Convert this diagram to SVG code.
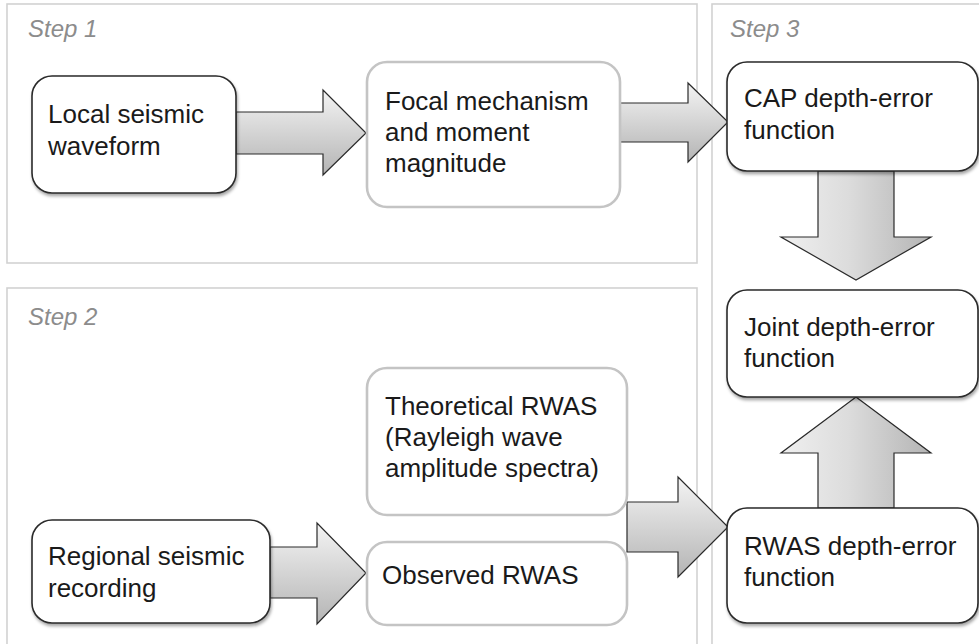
<svg xmlns="http://www.w3.org/2000/svg" width="979" height="644" viewBox="0 0 979 644">
<style>
.panel{fill:none;stroke:#d2d2d2;stroke-width:1.6}
.step{font-family:"Liberation Sans",Arial,sans-serif;font-style:italic;font-size:24px;fill:#8c8c8c}
.dark{fill:#fff;stroke:#2a2a2a;stroke-width:1.6;filter:url(#sh)}
.light{fill:#fff;stroke:#c4c4c4;stroke-width:2.6}
.t{font-family:"Liberation Sans",Arial,sans-serif;font-size:26px;fill:#1a1a1a}
.arr{stroke:#2a2a2a;stroke-width:1.2;stroke-linejoin:miter}
</style>
<defs>
<filter id="sh" x="-10%" y="-10%" width="130%" height="140%">
<feDropShadow dx="1" dy="2.5" stdDeviation="1.5" flood-color="#000" flood-opacity="0.35"/>
</filter>
<linearGradient id="gv" x1="0" y1="0" x2="0" y2="1">
<stop offset="0" stop-color="#f4f4f4"/>
<stop offset="1" stop-color="#b4b4b4"/>
</linearGradient>
<linearGradient id="gh" x1="0" y1="0" x2="1" y2="0">
<stop offset="0" stop-color="#f0f0f0"/>
<stop offset="0.45" stop-color="#dcdcdc"/>
<stop offset="1" stop-color="#b4b4b4"/>
</linearGradient>
</defs>

<g id="panels">
<rect class="panel" x="7" y="4" width="690" height="259"/>
<rect class="panel" x="7" y="288" width="690" height="380"/>
<rect class="panel" x="712" y="4" width="290" height="680"/>
<text class="step" x="28" y="37">Step 1</text>
<text class="step" x="28" y="325">Step 2</text>
<text class="step" x="730" y="37">Step 3</text>
</g>

<g id="connectors">
<polygon class="arr" fill="url(#gv)" points="236,112 323,112 323,90 366,133 323,175 323,154 236,154"/>
<polygon class="arr" fill="url(#gv)" points="620,103 688,103 688,83 728,122 688,162 688,142 620,142"/>
<polygon class="arr" fill="url(#gh)" points="818,171 894,171 894,237 931,237 856,280 781,237 818,237"/>
<polygon class="arr" fill="url(#gh)" points="856,397 931,453 894,453 894,508 818,508 818,453 781,453"/>
<polygon class="arr" fill="url(#gv)" points="627,502 678,502 678,477 728,527 678,577 678,552 627,552"/>
<polygon class="arr" fill="url(#gv)" points="270,547 317,547 317,523 366,573 317,624 317,598 270,598"/>
</g>

<g id="local">
<rect class="dark" x="32" y="76" width="204" height="117" rx="20"/>
<text class="t" x="48" y="123">Local seismic</text>
<text class="t" x="48" y="155">waveform</text>
</g>

<g id="focal">
<rect class="light" x="367" y="62" width="253" height="145" rx="20"/>
<text class="t" x="385" y="110">Focal mechanism</text>
<text class="t" x="385" y="141">and moment</text>
<text class="t" x="385" y="172">magnitude</text>
</g>

<g id="cap">
<rect class="dark" x="727" y="62" width="251" height="109" rx="20"/>
<text class="t" x="744" y="107">CAP depth-error</text>
<text class="t" x="744" y="139">function</text>
</g>

<g id="joint">
<rect class="dark" x="727" y="290" width="251" height="107" rx="20"/>
<text class="t" x="744" y="336">Joint depth-error</text>
<text class="t" x="744" y="367">function</text>
</g>

<g id="rwas">
<rect class="dark" x="727" y="508" width="251" height="115" rx="20"/>
<text class="t" x="744" y="555">RWAS depth-error</text>
<text class="t" x="744" y="586">function</text>
</g>

<g id="theoretical">
<rect class="light" x="367" y="368" width="260" height="147" rx="20"/>
<text class="t" x="385" y="415">Theoretical RWAS</text>
<text class="t" x="385" y="446">(Rayleigh wave</text>
<text class="t" x="385" y="477">amplitude spectra)</text>
</g>

<g id="observed">
<rect class="light" x="367" y="542" width="260" height="83" rx="20"/>
<text class="t" x="382" y="584">Observed RWAS</text>
</g>

<g id="regional">
<rect class="dark" x="32" y="520" width="238" height="103" rx="20"/>
<text class="t" x="48" y="565">Regional seismic</text>
<text class="t" x="48" y="597">recording</text>
</g>
</svg>
